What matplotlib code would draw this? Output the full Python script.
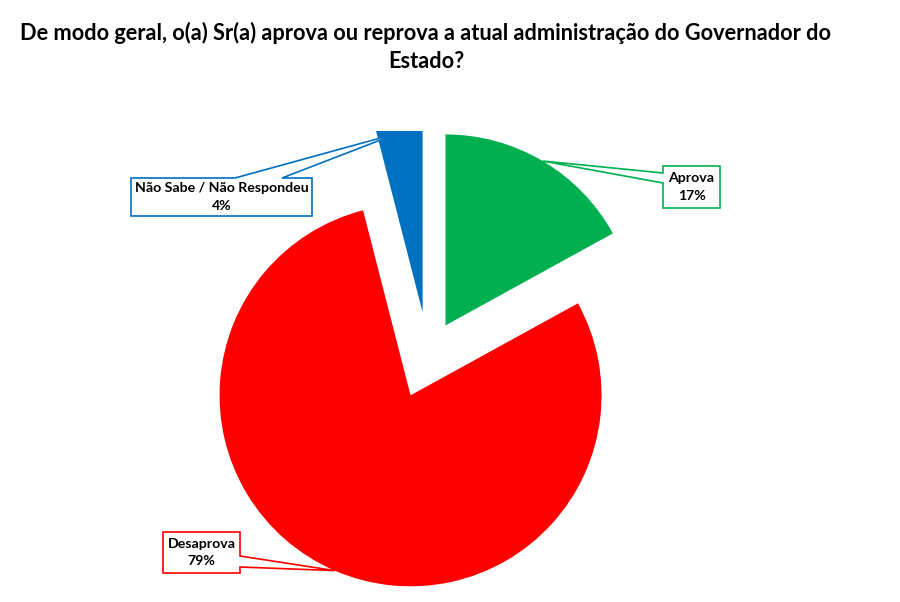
import matplotlib
matplotlib.use('Agg')
import matplotlib.pyplot as plt
import numpy as np
from matplotlib.patches import Polygon

# ---- data ----
categories = ['Aprova', 'Desaprova', 'Não Sabe / Não Respondeu']
values = [17, 79, 4]
pct_labels = ['17%', '79%', '4%']
colors = ['#00B050', '#FF0000', '#0070C0']
title_lines = ['De modo geral, o(a) Sr(a) aprova ou reprova a atual administração do Governador do',
               'Estado?']

# ---- layout ----
explode = [0.18, 0.23, 0.225]
W, H = 900, 602
CX, CY = 428, 355   # pie centre (pixels, from top-left)
RPX = 191           # pie radius in pixels
CLIP_TOP = 131      # plot-area top (pixels)

plt.rcParams['font.family'] = ['Lato', 'DejaVu Sans']
fig = plt.figure(figsize=(W / 100, H / 100), dpi=100)
ax = fig.add_axes([0, 0, 1, (H - CLIP_TOP) / H])

wedges, _ = ax.pie(values, colors=colors, explode=explode, startangle=90,
                   counterclock=False, radius=1,
                   wedgeprops=dict(linewidth=0))
for w in wedges:
    w.set_clip_on(True)
    w.set_clip_box(ax.bbox)
ax.set_xlim(-CX / RPX, (W - CX) / RPX)
ax.set_ylim(-(H - CY) / RPX, (CY - CLIP_TOP) / RPX)
ax.set_aspect('equal')
ax.axis('off')


def p2d(px, py):
    return ((px - CX) / RPX, (CY - py) / RPX)


# box (x0, y0, x1, y1) in pixels, side of the pointer, pointer base range
boxes = [
    ((663, 166, 720, 208), 'left', (173, 183)),
    ((163, 532, 240, 573), 'right', (556, 567)),
    ((131, 178, 312, 216), 'top', (235, 282)),
]

ytop = p2d(0, CLIP_TOP + 2)[1]
for w, cat, pct, col, (bx, side, base) in zip(wedges, categories, pct_labels, colors, boxes):
    mid = np.deg2rad((w.theta1 + w.theta2) / 2)
    tip = (w.center[0] + w.r * np.cos(mid), min(w.center[1] + w.r * np.sin(mid), ytop))
    x0, y0, x1, y1 = bx
    b1, b2 = base
    if side == 'left':
        pts = [p2d(x0, y0), p2d(x1, y0), p2d(x1, y1), p2d(x0, y1),
               p2d(x0, b2), tip, p2d(x0, b1)]
    elif side == 'right':
        pts = [p2d(x0, y0), p2d(x1, y0), p2d(x1, b1), tip, p2d(x1, b2),
               p2d(x1, y1), p2d(x0, y1)]
    else:
        pts = [p2d(x0, y0), p2d(b1, y0), tip, p2d(b2, y0), p2d(x1, y0),
               p2d(x1, y1), p2d(x0, y1)]
    ax.add_patch(Polygon(pts, closed=True, facecolor='white', edgecolor=col,
                         linewidth=1.2, zorder=5, clip_on=False))
    tx, ty = p2d((x0 + x1) / 2, (y0 + y1) / 2)
    ax.text(tx, ty, f'{cat}\n{pct}', ha='center', va='center', fontsize=10.2,
            fontweight='bold', color='black', linespacing=1.5, zorder=6,
            clip_on=False)

fig.text(426 / W, 1 - 33 / H, title_lines[0], ha='center', va='center',
         fontsize=15.7, fontweight='bold', color='black')
fig.text(426 / W, 1 - 62 / H, title_lines[1], ha='center', va='center',
         fontsize=15.7, fontweight='bold', color='black')

fig.savefig('out.png', dpi=100, facecolor='white')
